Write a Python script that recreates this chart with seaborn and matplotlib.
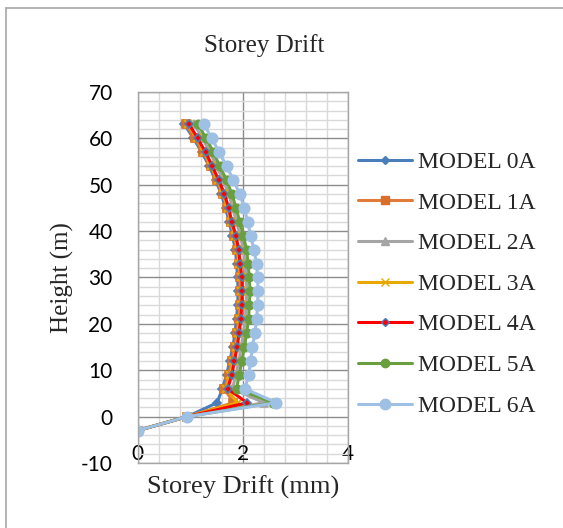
import seaborn as sns
import matplotlib.pyplot as plt
import pandas as pd
from matplotlib.lines import Line2D
from matplotlib.ticker import MultipleLocator

# storey heights (m)
heights = [-3, 0, 3, 6, 9, 12, 15, 18, 21, 24, 27, 30, 33, 36, 39, 42, 45, 48, 51, 54, 57, 60, 63]

# storey drift (mm) per model
model_0a = [0, 0.94, 1.51, 1.61, 1.69, 1.75, 1.81, 1.85, 1.88, 1.90, 1.91, 1.90, 1.88, 1.86, 1.80, 1.74, 1.67, 1.59, 1.48, 1.36, 1.22, 1.06, 0.89]
model_1a = [0, 0.94, 1.82, 1.65, 1.73, 1.79, 1.85, 1.89, 1.92, 1.94, 1.95, 1.94, 1.92, 1.89, 1.84, 1.77, 1.70, 1.62, 1.51, 1.39, 1.25, 1.09, 0.92]
model_2a = [0, 0.94, 2.40, 1.80, 1.87, 1.92, 1.97, 2.01, 2.05, 2.06, 2.08, 2.06, 2.04, 2.01, 1.95, 1.88, 1.81, 1.73, 1.63, 1.50, 1.38, 1.23, 1.08]
model_3a = [0, 0.94, 1.90, 1.68, 1.76, 1.82, 1.87, 1.91, 1.94, 1.96, 1.97, 1.96, 1.93, 1.90, 1.85, 1.77, 1.71, 1.63, 1.52, 1.40, 1.27, 1.12, 0.96]
model_4a = [0, 0.94, 2.08, 1.71, 1.79, 1.84, 1.89, 1.93, 1.96, 1.98, 1.99, 1.98, 1.95, 1.92, 1.87, 1.79, 1.73, 1.65, 1.54, 1.42, 1.29, 1.14, 0.98]
model_5a = [0, 0.94, 2.57, 1.88, 1.93, 1.98, 2.03, 2.07, 2.11, 2.12, 2.14, 2.12, 2.10, 2.07, 2.01, 1.94, 1.87, 1.79, 1.69, 1.56, 1.44, 1.30, 1.15]
model_6a = [0, 0.94, 2.64, 2.04, 2.11, 2.15, 2.18, 2.23, 2.26, 2.28, 2.29, 2.28, 2.26, 2.21, 2.15, 2.09, 2.03, 1.94, 1.82, 1.69, 1.55, 1.41, 1.26]

names = ['MODEL 0A', 'MODEL 1A', 'MODEL 2A', 'MODEL 3A', 'MODEL 4A', 'MODEL 5A', 'MODEL 6A']
series = [model_0a, model_1a, model_2a, model_3a, model_4a, model_5a, model_6a]

rows = []
for name, vals in zip(names, series):
    for h, d in zip(heights, vals):
        rows.append({'model': name, 'drift': d, 'height': h})
df = pd.DataFrame(rows)

# styles: colour, marker, marker size, marker face, marker edge
styles = {
    'MODEL 0A': ('#4a7ebb', 'D', 4.5, '#4a7ebb', '#4a7ebb'),
    'MODEL 1A': ('#e07b39', 's', 5.5, '#d8702c', '#d8702c'),
    'MODEL 2A': ('#a5a5a5', '^', 5.5, '#a5a5a5', '#a5a5a5'),
    'MODEL 3A': ('#e8a800', 'x', 5.5, '#e8a800', '#e8a800'),
    'MODEL 4A': ('#ff0000', 'D', 4.5, '#ff0000', '#4a7ebb'),
    'MODEL 5A': ('#6a9f3f', 'o', 6, '#6a9f3f', '#6a9f3f'),
    'MODEL 6A': ('#9dc0e4', 'o', 7.5, '#9dc0e4', '#9dc0e4'),
}

sns.set_style('white')
plt.rcParams['axes.unicode_minus'] = False
serif = ['Liberation Serif', 'DejaVu Serif']
sans = ['Lato', 'DejaVu Sans']

fig = plt.figure(figsize=(5.63, 5.28), dpi=100)
ax = fig.add_axes([0.2446, 0.1231, 0.3735, 0.7027])

handles = []
for name in names:
    c, m, ms, fc, ec = styles[name]
    sns.lineplot(data=df[df['model'] == name], x='drift', y='height', sort=False,
                 estimator=None, color=c, marker=m, markersize=ms, markerfacecolor=fc,
                 markeredgecolor=ec, markeredgewidth=1.2 if m != 'x' else 1.5,
                 linewidth=2.2, ax=ax, legend=False)
    handles.append(Line2D([], [], color=c, marker=m, markersize=ms, markerfacecolor=fc,
                          markeredgecolor=ec, linewidth=2.2))

ax.set_xlim(0, 4)
ax.set_ylim(-10, 70)
ax.xaxis.set_major_locator(MultipleLocator(2))
ax.xaxis.set_minor_locator(MultipleLocator(0.4))
ax.yaxis.set_major_locator(MultipleLocator(10))
ax.yaxis.set_minor_locator(MultipleLocator(2))
ax.grid(which='major', color='#8c8c8c', linewidth=1.0)
ax.grid(which='minor', color='#d9d9d9', linewidth=1.0)
ax.set_axisbelow(True)
for s in ax.spines.values():
    s.set_color('#a6a6a6')
    s.set_linewidth(1.0)

ax.tick_params(axis='both', which='both', length=0)
ax.tick_params(axis='y', pad=18)
ax.tick_params(axis='x', pad=-14)
for lab in ax.get_xticklabels() + ax.get_yticklabels():
    lab.set_family(sans)
    lab.set_fontsize(15)
    lab.set_color('#000000')

ax.set_xlabel('Storey Drift (mm)', family=serif, fontsize=19, labelpad=6)
ax.set_ylabel('Height (m)', family=serif, fontsize=18, labelpad=5)
fig.text(0.47, 0.913, 'Storey Drift', family=serif, fontsize=18, ha='center', va='center')

fig.legend(handles, names, loc='center left', bbox_to_anchor=(0.636, 0.462),
           frameon=False, prop={'family': serif, 'size': 17}, handlelength=2.3,
           handletextpad=0.25, labelspacing=0.81, borderpad=0, borderaxespad=0)

# outer chart border (left and top)
fig.add_artist(Line2D([6 / 563, 6 / 563], [0, 1 - 8 / 528], color='#a6a6a6', linewidth=1.2,
                      transform=fig.transFigure))
fig.add_artist(Line2D([6 / 563, 1], [1 - 8 / 528, 1 - 8 / 528], color='#a6a6a6', linewidth=1.2,
                      transform=fig.transFigure))

fig.savefig('out.png', dpi=100)
